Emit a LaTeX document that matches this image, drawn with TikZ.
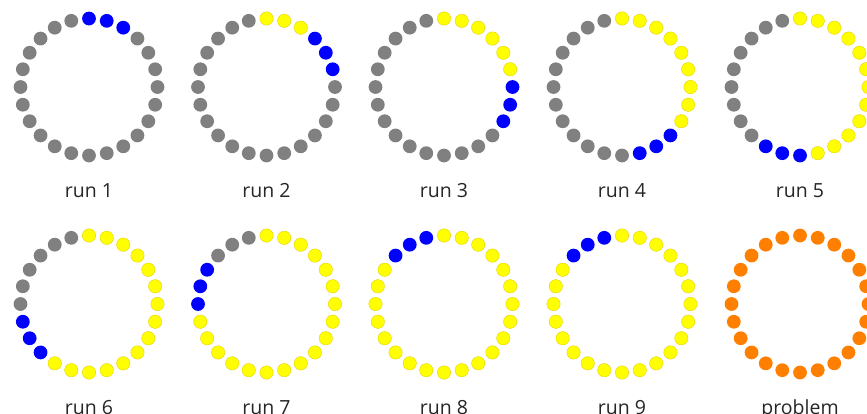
\documentclass[tikz,border=0pt]{standalone}
\usepackage{fontspec}
\setmainfont{Open Sans}
\definecolor{dgray}{HTML}{808080}
\definecolor{dblue}{HTML}{0000FF}
\definecolor{dyellow}{HTML}{FFFF00}
\definecolor{dorange}{HTML}{FF8000}
\definecolor{yedge}{HTML}{E6D200}
\tikzset{
  dot/.style={circle,inner sep=0pt,minimum size=13.8pt,draw=none},
  gdot/.style={dot,fill=dgray},
  bdot/.style={dot,fill=dblue},
  ydot/.style={dot,fill=dyellow,draw=yedge,line width=0.4pt,minimum size=13.4pt},
  odot/.style={dot,fill=dorange},
  lab/.style={font=\fontsize{19.5}{22}\selectfont,anchor=base,inner sep=0pt,text=black!85}
}
\begin{document}
\begin{tikzpicture}[x=1pt,y=-1pt]
\fill[white] (0,0) rectangle (867,413);
\useasboundingbox (0,0) rectangle (867,413);
\foreach \n/\cx/\cy/\ny/\lab in {
  1/89/87/0/run 1, 2/266.5/87/3/run 2, 3/444/87/6/run 3, 4/622/87/9/run 4, 5/800/87/12/run 5,
  6/89/304/15/run 6, 7/266.5/304/18/run 7, 8/444/304/21/run 8, 9/622/304/21/run 9, 10/800/304/-1/problem}{
  \foreach \i in {0,...,23}{
    \pgfmathtruncatemacro\bend{\ny+3}
    \ifnum\ny<0 \def\st{odot}\else
      \ifnum\i<\ny \def\st{ydot}\else
        \ifnum\i<\bend \def\st{bdot}\else \def\st{gdot}\fi
      \fi
    \fi
    \node[\st] (r\n-\i) at ({\cx+68.5*sin(15*\i)},{\cy-68.5*cos(15*\i)}) {};
  }
  \node[lab] (l\n) at (\cx,{\cy+110}) {\lab};
}
\end{tikzpicture}
\end{document}
